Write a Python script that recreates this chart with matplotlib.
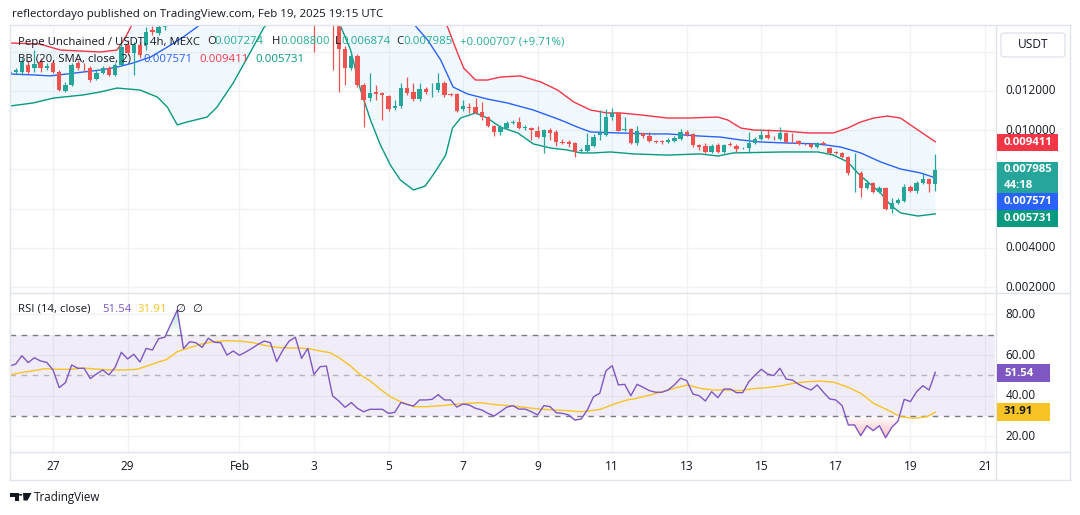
import matplotlib
matplotlib.use("Agg")
import matplotlib.pyplot as plt
import matplotlib.colors as mcolors
from matplotlib.patches import Rectangle, PathPatch, Polygon, Circle, FancyBboxPatch
from matplotlib.lines import Line2D
import numpy as np

# ---------------------------------------------------------------- data
# PEPEUNCH/USDT 4h candles, MEXC.  Bar 0 opens Jan 25 20:00 UTC, last bar Feb 19 16:00 UTC.
first_bar_day = -28 / 24          # days relative to Jan 27 00:00 UTC
bar_days = 4 / 24

opens = [0.01292, 0.01297, 0.01297, 0.01333, 0.01317, 0.01348, 0.01317, 0.01343, 0.01297, 0.01200,
         0.01231, 0.01343, 0.01317, 0.01317, 0.01261, 0.01292, 0.01317, 0.01282, 0.01333, 0.01435,
         0.01394, 0.01435, 0.01435, 0.01511, 0.01496, 0.01527, 0.0160, 0.0168, 0.0183, 0.0200,
         0.0182, 0.0189, 0.0187, 0.0183, 0.0192, 0.0189, 0.0188, 0.0178, 0.0181, 0.0178,
         0.0180, 0.0184, 0.0188, 0.0192, 0.0190, 0.0176, 0.0182, 0.0189, 0.0193, 0.0186,
         0.0176, 0.0166, 0.0170, 0.0162, 0.01414, 0.01317, 0.01379, 0.01231, 0.01164, 0.01195,
         0.01190, 0.01174, 0.01113, 0.01123, 0.01215, 0.01195, 0.01159, 0.01210, 0.01198, 0.01205,
         0.01241, 0.01185, 0.01185, 0.01108, 0.01118, 0.01118, 0.01093, 0.01067, 0.01021, 0.00991,
         0.01011, 0.01037, 0.01042, 0.01011, 0.01011, 0.00996, 0.00965, 0.01001, 0.00991, 0.00940,
         0.00940, 0.00935, 0.00894, 0.00894, 0.00919, 0.00976, 0.00976, 0.01067, 0.01088, 0.01001,
         0.01006, 0.00935, 0.00986, 0.00970, 0.00945, 0.00942, 0.00940, 0.00945, 0.00955, 0.00991,
         0.00981, 0.00924, 0.00919, 0.00889, 0.00924, 0.00889, 0.00930, 0.00919, 0.00907, 0.00909,
         0.00935, 0.00955, 0.00976, 0.00962, 0.00955, 0.00986, 0.00942, 0.00945, 0.00932, 0.00930,
         0.00914, 0.00935, 0.00909, 0.00889, 0.00884, 0.00863, 0.00780, 0.00782, 0.00705, 0.00731,
         0.00685, 0.00705, 0.00598, 0.00629, 0.00639, 0.00710, 0.00690, 0.00731, 0.00751, 0.007274]

highs = [0.01307, 0.01317, 0.01368, 0.01358, 0.01409, 0.01368, 0.01343, 0.01358, 0.01307, 0.01246,
         0.01343, 0.01358, 0.01343, 0.01327, 0.01307, 0.01327, 0.01327, 0.01343, 0.01450, 0.01460,
         0.01450, 0.01450, 0.01527, 0.01532, 0.01562, 0.0162, 0.0170, 0.0186, 0.0205, 0.0202,
         0.0192, 0.0191, 0.0189, 0.0195, 0.0194, 0.0191, 0.0189, 0.0183, 0.0182, 0.0183,
         0.0186, 0.0190, 0.0195, 0.0193, 0.0191, 0.0184, 0.0191, 0.0196, 0.0194, 0.0189,
         0.0179, 0.0174, 0.0173, 0.0164, 0.0143, 0.0140, 0.01390, 0.01240, 0.01292, 0.01231,
         0.01195, 0.01180, 0.01154, 0.01241, 0.01271, 0.01241, 0.01241, 0.01220, 0.01241, 0.01292,
         0.01250, 0.01190, 0.01190, 0.01154, 0.01139, 0.01164, 0.01144, 0.01072, 0.01027, 0.01027,
         0.01045, 0.01052, 0.01067, 0.01027, 0.01016, 0.01021, 0.01006, 0.01011, 0.01001, 0.00955,
         0.00950, 0.00940, 0.00909, 0.00986, 0.00981, 0.01103, 0.01108, 0.01113, 0.01093, 0.01067,
         0.01011, 0.01021, 0.00991, 0.00991, 0.00950, 0.00950, 0.00960, 0.00970, 0.01006, 0.01001,
         0.00986, 0.00930, 0.00935, 0.00930, 0.00935, 0.00930, 0.00940, 0.00930, 0.00914, 0.00991,
         0.00965, 0.01006, 0.01006, 0.00970, 0.01016, 0.00991, 0.00986, 0.00950, 0.00935, 0.00935,
         0.00940, 0.00945, 0.00914, 0.00894, 0.00889, 0.00868, 0.00884, 0.00790, 0.00746, 0.00736,
         0.00715, 0.00710, 0.00654, 0.00654, 0.00726, 0.00720, 0.00741, 0.00782, 0.00756, 0.008800]

lows = [0.01282, 0.01287, 0.01282, 0.01287, 0.01297, 0.01297, 0.01307, 0.01292, 0.01200, 0.01195,
        0.01226, 0.01307, 0.01297, 0.01246, 0.01256, 0.01287, 0.01277, 0.01277, 0.01327, 0.01384,
        0.01282, 0.01368, 0.01409, 0.01486, 0.01486, 0.0151, 0.0158, 0.0166, 0.0180, 0.0178,
        0.0179, 0.0183, 0.0180, 0.0182, 0.0187, 0.0186, 0.0176, 0.0176, 0.0176, 0.0177,
        0.0179, 0.0183, 0.0187, 0.0188, 0.0174, 0.0175, 0.0181, 0.0188, 0.0184, 0.01399,
        0.0162, 0.0164, 0.01307, 0.01195, 0.01230, 0.01307, 0.01220, 0.01016, 0.01149, 0.01154,
        0.01052, 0.01098, 0.01103, 0.01113, 0.01180, 0.01149, 0.01149, 0.01185, 0.01169, 0.01195,
        0.01170, 0.01174, 0.01093, 0.01098, 0.01088, 0.01083, 0.01052, 0.01016, 0.00970, 0.00976,
        0.01006, 0.01030, 0.01006, 0.01000, 0.00950, 0.00960, 0.00884, 0.00950, 0.00919, 0.00930,
        0.00914, 0.00863, 0.00884, 0.00889, 0.00914, 0.00950, 0.00970, 0.01052, 0.00996, 0.00996,
        0.00930, 0.00924, 0.00960, 0.00940, 0.00935, 0.00930, 0.00935, 0.00940, 0.00950, 0.00970,
        0.00914, 0.00899, 0.00884, 0.00884, 0.00884, 0.00884, 0.00919, 0.00889, 0.00904, 0.00884,
        0.00930, 0.00950, 0.00955, 0.00950, 0.00950, 0.00935, 0.00935, 0.00924, 0.00924, 0.00909,
        0.00909, 0.00924, 0.00879, 0.00879, 0.00858, 0.00771, 0.00685, 0.00659, 0.00700, 0.00680,
        0.00680, 0.00593, 0.00578, 0.00624, 0.00634, 0.00685, 0.00680, 0.00726, 0.00685, 0.006874]

closes = [0.01297, 0.01307, 0.01348, 0.01297, 0.01338, 0.01317, 0.01327, 0.01297, 0.01205, 0.01231,
          0.01333, 0.01317, 0.01315, 0.01256, 0.01292, 0.01317, 0.01282, 0.01333, 0.01424, 0.01394,
          0.01435, 0.01384, 0.01501, 0.01501, 0.01527, 0.0160, 0.0168, 0.0183, 0.0200, 0.0182,
          0.0189, 0.0187, 0.0183, 0.0192, 0.0189, 0.0188, 0.0178, 0.0181, 0.0178, 0.0180,
          0.0184, 0.0188, 0.0192, 0.0190, 0.0176, 0.0182, 0.0189, 0.0193, 0.0186, 0.0176,
          0.0166, 0.0170, 0.0162, 0.01414, 0.01317, 0.01379, 0.01231, 0.01154, 0.01190, 0.01185,
          0.01180, 0.01108, 0.01123, 0.01215, 0.01190, 0.01159, 0.01210, 0.01195, 0.01202, 0.01241,
          0.01180, 0.01180, 0.01098, 0.01123, 0.01113, 0.01088, 0.01067, 0.01021, 0.00991, 0.01016,
          0.01037, 0.01042, 0.01011, 0.01013, 0.01001, 0.00965, 0.01001, 0.00986, 0.00940, 0.00935,
          0.00930, 0.00889, 0.00899, 0.00924, 0.00965, 0.00986, 0.01067, 0.01088, 0.00996, 0.01006,
          0.00935, 0.00996, 0.00970, 0.00945, 0.00940, 0.00940, 0.00950, 0.00960, 0.00991, 0.00976,
          0.00924, 0.00914, 0.00889, 0.00919, 0.00889, 0.00924, 0.00924, 0.00904, 0.00909, 0.00935,
          0.00955, 0.00976, 0.00960, 0.00958, 0.00986, 0.00940, 0.00938, 0.00930, 0.00928, 0.00914,
          0.00935, 0.00930, 0.00884, 0.00884, 0.00863, 0.00782, 0.00784, 0.00705, 0.00731, 0.00685,
          0.00705, 0.00598, 0.00629, 0.00644, 0.00710, 0.00690, 0.00731, 0.00751, 0.00726, 0.007985]

# Bollinger Bands (20, SMA, close, 2): (bar position, value)
bb_upper_pos = [0, 4.8, 8.2, 14.6, 17.3, 18.6, 19.7, 22, 26, 30, 36, 42, 48, 54, 60, 66, 70.5, 72.1,
                73.1, 75.0, 76.9, 79.0, 82.2, 85.5, 88.2, 90.8, 93.5, 96.2, 98.3, 101.6, 105.9, 109.1,
                114.0, 115.6, 117.7, 119.8, 124.6, 128.5, 132.6, 134.9, 137.0, 139.1, 141.3, 143.4,
                146.2, 149]
bb_upper = [0.01445, 0.01440, 0.01409, 0.01399, 0.01409, 0.01470, 0.01537, 0.0160, 0.0175, 0.0190,
            0.0203, 0.0208, 0.0206, 0.0198, 0.0185, 0.0168, 0.01527, 0.01394, 0.01317, 0.01256,
            0.01256, 0.01271, 0.01277, 0.01246, 0.01205, 0.01144, 0.01103, 0.01088, 0.01088,
            0.01078, 0.01062, 0.01062, 0.01067, 0.01052, 0.01011, 0.01001, 0.00996, 0.00986,
            0.00986, 0.01011, 0.01042, 0.01062, 0.01072, 0.01062, 0.01001, 0.009411]

bb_basis_pos = [0, 3.8, 6.5, 9.3, 11.9, 14.6, 17.3, 19.9, 22.7, 25.4, 28.0, 30.2, 34, 40, 46, 52, 58,
                62, 64.5, 67.3, 69.4, 71.4, 73.7, 76.9, 80.1, 84.3, 88.7, 91.4, 93.5, 97.9, 103.2,
                105.9, 111.2, 114.4, 117.7, 120.9, 124.6, 130.1, 133.8, 137.0, 140.2, 143.4, 146.6, 149]
bb_basis = [0.01287, 0.01282, 0.01277, 0.01287, 0.01297, 0.01307, 0.01322, 0.01343, 0.01373, 0.01424,
            0.01476, 0.01527, 0.0163, 0.0176, 0.0183, 0.0185, 0.0178, 0.0166, 0.01562, 0.01460,
            0.01358, 0.01220, 0.01185, 0.01159, 0.01139, 0.01103, 0.01052, 0.01016, 0.00991,
            0.00986, 0.00981, 0.00981, 0.00970, 0.00965, 0.00950, 0.00940, 0.00935, 0.00930,
            0.00914, 0.00884, 0.00838, 0.00802, 0.00782, 0.007571]

bb_lower_pos = [0, 3.8, 7.1, 11.9, 14.6, 17.3, 21.0, 23.8, 25.4, 27.0, 28.6, 31.8, 33.4, 36.0, 38.7,
                40.9, 44, 48, 51, 53.2, 54.9, 56.5, 58.1, 59.7, 61.3, 62.9, 65.0, 66.9, 68.5, 70.2,
                71.3, 72.6, 75.0, 76.9, 79.0, 81.8, 84.3, 87.1, 89.8, 91.9, 94.0, 96.7, 100.4, 105.9,
                111.2, 114.0, 116.5, 124.6, 130.1, 132.6, 134.9, 136.5, 138.1, 140.2, 141.8, 143.4,
                146.2, 149]
bb_lower = [0.01123, 0.01139, 0.01164, 0.01180, 0.01195, 0.01215, 0.01205, 0.01169, 0.01118, 0.01027,
            0.01042, 0.01067, 0.01118, 0.01241, 0.01394, 0.01521, 0.0165, 0.0170, 0.0162, 0.01537,
            0.01409, 0.01205, 0.01052, 0.00924, 0.00822, 0.00746, 0.00695, 0.00715, 0.00787,
            0.00873, 0.01011, 0.01062, 0.01088, 0.01062, 0.01016, 0.00986, 0.00930, 0.00909,
            0.00899, 0.00884, 0.00884, 0.00889, 0.00879, 0.00873, 0.00879, 0.00868, 0.00884,
            0.00889, 0.00889, 0.00873, 0.00838, 0.00782, 0.00736, 0.00680, 0.00618, 0.00578,
            0.00562, 0.005731]

# RSI (14, close), one value per bar
rsi_values = [54.6, 55.6, 59.7, 56.3, 58.7, 57.1, 56.4, 52.7, 44.0, 46.4,
              55.1, 53.5, 53.5, 48.4, 50.7, 52.7, 50.2, 54.0, 61.4, 58.1,
              60.4, 56.6, 63.3, 62.5, 68.1, 68.8, 75.5, 82.2, 63.2, 66.6,
              66.1, 63.8, 68.3, 66.3, 66.1, 60.0, 62.0, 59.9, 61.5, 63.3,
              65.3, 66.9, 66.1, 56.8, 62.5, 66.9, 68.8, 58.4, 63.3, 50.5,
              54.3, 54.6, 39.9, 37.4, 34.3, 36.6, 33.8, 32.1, 33.3, 33.3,
              33.3, 31.3, 31.8, 36.7, 35.7, 34.9, 37.9, 37.9, 38.2, 40.5,
              37.9, 37.9, 34.4, 35.9, 35.4, 33.8, 33.0, 31.3, 30.0, 32.1,
              34.3, 35.1, 33.4, 33.4, 32.1, 30.5, 35.1, 34.6, 31.6, 31.3,
              30.5, 28.0, 28.5, 33.0, 39.5, 41.2, 52.3, 54.8, 45.3, 45.6,
              40.0, 45.6, 44.1, 42.5, 41.7, 41.7, 42.8, 45.3, 48.6, 47.4,
              40.8, 40.0, 37.4, 42.0, 39.0, 43.3, 43.3, 41.5, 41.5, 46.9,
              50.2, 53.0, 50.7, 49.9, 53.5, 48.2, 47.7, 45.6, 44.1, 42.8,
              45.3, 41.7, 38.4, 37.9, 35.1, 25.6, 25.6, 20.3, 25.2, 22.8,
              25.2, 19.3, 24.4, 27.5, 38.2, 37.1, 42.0, 44.9, 42.8, 51.54]

# RSI-based moving average (SMA 14): (bar position, value)
rsi_ma_pos = [0.0, 1.7, 3.9, 5.7, 7.9, 9.8, 11.9, 14.1, 16.2, 18.4, 20.5, 22.1, 23.7, 25.3, 27.0,
              28.6, 30.7, 32.8, 35.0, 37.1, 39.3, 40.9, 43.1, 45.2, 46.8, 48.4, 50.0, 51.6, 53.2,
              54.9, 56.5, 58.1, 59.7, 61.3, 62.9, 65.0, 67.2, 69.4, 71.5, 73.6, 75.8, 77.9, 79.0,
              81.2, 83.3, 85.4, 87.6, 89.8, 91.9, 93.5, 95.1, 97.3, 99.4, 100.5, 102.6, 104.8,
              106.9, 109.1, 111.2, 113.4, 115.5, 117.7, 119.8, 122.0, 124.1, 126.2, 128.4, 130.5,
              132.7, 134.8, 137.0, 139.1, 141.3, 143.4, 145.6, 147.7, 149.0]
rsi_ma_values = [50.2, 51.3, 52.3, 53.3, 53.0, 53.0, 53.6, 53.1, 52.7, 52.7, 53.0, 54.6, 56.3, 57.9,
                 61.7, 63.3, 65.3, 66.6, 67.1, 66.9, 66.1, 64.9, 63.8, 63.5, 63.5, 63.0, 62.0, 61.2,
                 58.4, 54.6, 50.2, 47.2, 43.1, 39.5, 37.1, 34.6, 34.6, 35.1, 35.7, 36.2, 36.6, 35.7,
                 35.4, 34.9, 34.1, 33.4, 33.0, 32.6, 32.1, 32.6, 33.3, 35.9, 37.9, 38.4, 40.0, 41.7,
                 43.6, 45.3, 43.6, 42.8, 42.8, 42.5, 43.5, 44.0, 44.8, 46.1, 46.9, 47.2, 46.6, 44.4,
                 41.2, 36.2, 33.0, 29.7, 28.9, 29.7, 31.91]

date_tick_days = [0, 2, 5, 7, 9, 11, 13, 15, 17, 19, 21, 23, 25]
date_tick_labels = ['27', '29', 'Feb', '3', '5', '7', '9', '11', '13', '15', '17', '19', '21']
price_ticks = [0.002, 0.004, 0.006, 0.008, 0.010, 0.012, 0.014]
price_labelled = [0.002, 0.004, 0.010, 0.012]     # the others sit under the price tags
rsi_ticks = [20, 40, 60, 80]

last_close, bb_basis_last, bb_upper_last, bb_lower_last = 0.007985, 0.007571, 0.009411, 0.005731
rsi_last, rsi_ma_last = 51.54, 31.91

# ---------------------------------------------------------------- style
W, H = 1080, 515
UP, DOWN = '#26a69a', '#ef5350'
TXT = '#131722'
GRID = '#f0f2f5'
FRAME = '#e0e3eb'
plt.rcParams['font.family'] = ['Open Sans', 'DejaVu Sans']

fig = plt.figure(figsize=(W / 100, H / 100), dpi=100)
fig.patch.set_facecolor('white')
renderer = fig.canvas.get_renderer()


def fx(px):
    return px / W


def fy(py):
    return 1 - py / H


def ftext(px, py, s, color=TXT, size=9.0, width=None, ha='left', va='center',
          weight='normal', zorder=6):
    t = fig.text(fx(px), fy(py), s, color=color, fontsize=size, ha=ha, va=va,
                 fontweight=weight, zorder=zorder)
    if width is not None:
        w = t.get_window_extent(renderer).width
        if w > 0:
            t.set_fontsize(size * width / w)
    return t


x_left_day = (10 - 53) / 37.28
x_right_day = (995 - 53) / 37.28

ax = fig.add_axes([fx(10), fy(293), 985 / W, 268 / H])
axr = fig.add_axes([fx(10), fy(452), 985 / W, 159 / H])
for a in (ax, axr):
    a.set_facecolor('white')
    for s in a.spines.values():
        s.set_visible(False)
    a.set_xlim(x_left_day, x_right_day)
    a.set_xticks(date_tick_days)
    a.grid(True, color=GRID, lw=1.0, zorder=0)
    a.set_axisbelow(True)

bar_x = first_bar_day + np.arange(len(closes)) * bar_days

# ---------------- price pane
ax.set_ylim(0.001694, 0.015367)
ax.set_yticks(price_ticks)
ax.set_yticklabels(['%.6f' % v if v in price_labelled else '' for v in price_ticks])
ax.yaxis.tick_right()
ax.tick_params(axis='y', length=0, pad=7.4, labelsize=8.5, labelcolor=TXT)
ax.tick_params(axis='x', length=0, labelbottom=False)
for lab in ax.get_yticklabels():
    lab.set_verticalalignment('center')

up_x = first_bar_day + np.array(bb_upper_pos) * bar_days
lo_x = first_bar_day + np.array(bb_lower_pos) * bar_days
ba_x = first_bar_day + np.array(bb_basis_pos) * bar_days
poly = np.vstack([np.column_stack([up_x, bb_upper]),
                  np.column_stack([lo_x, bb_lower])[::-1]])
ax.add_patch(Polygon(poly, closed=True, facecolor='#2196f3', alpha=0.055, lw=0, zorder=1))
ax.plot(up_x, bb_upper, color='#f23645', lw=1.0, zorder=2)
ax.plot(ba_x, bb_basis, color='#2962ff', lw=1.0, zorder=2)
ax.plot(lo_x, bb_lower, color='#089981', lw=1.0, zorder=2)

body_w = 0.7 * bar_days
for xi, o, h, l, c in zip(bar_x, opens, highs, lows, closes):
    col = UP if c >= o else DOWN
    ax.vlines(xi, l, h, color=col, lw=0.9, zorder=3)
    ax.bar(xi, max(abs(c - o), 0.00003), bottom=min(o, c), width=body_w, color=col,
           lw=0, zorder=4)

# ---------------- RSI pane
axr.set_ylim(12.27, 90.59)
axr.set_yticks(rsi_ticks)
axr.set_yticklabels(['%.2f' % v for v in rsi_ticks])
axr.yaxis.tick_right()
axr.tick_params(axis='y', length=0, pad=7.4, labelsize=8.5, labelcolor=TXT)
for lab in axr.get_yticklabels():
    lab.set_verticalalignment('center')
axr.set_xticklabels(date_tick_labels)
axr.tick_params(axis='x', length=0, pad=6.0, labelsize=8.6, labelcolor=TXT)

axr.axhspan(30, 70, color='#7e57c2', alpha=0.1, lw=0, zorder=1)
axr.axhline(70, color='#787b86', lw=1.0, ls=(0, (4, 4)), zorder=2)
axr.axhline(30, color='#787b86', lw=1.0, ls=(0, (4, 4)), zorder=2)
axr.axhline(50, color='#787b86', lw=1.0, ls=(0, (4, 4)), alpha=0.5, zorder=2)

rsi_arr = np.array(rsi_values)


def gradient_fill(where, base, far, color, alpha_far):
    coll = axr.fill_between(bar_x, rsi_arr, base, where=where, interpolate=True,
                            facecolor='none', edgecolor='none')
    rgb = mcolors.to_rgb(color)
    n = 128
    grad = np.zeros((n, 1, 4))
    grad[:, 0, :3] = rgb
    lo_v, hi_v = min(base, far), max(base, far)
    a = np.linspace(0, 1, n)
    grad[:, 0, 3] = alpha_far * (a if far > base else 1 - a)
    for path in coll.get_paths():
        if len(path.vertices) < 3:
            continue
        xs = path.vertices[:, 0]
        im = axr.imshow(grad, extent=[xs.min(), xs.max(), lo_v, hi_v], origin='lower',
                        aspect='auto', zorder=2, interpolation='bilinear')
        patch = PathPatch(path, transform=axr.transData, facecolor='none', edgecolor='none')
        im.set_clip_path(patch)
    coll.remove()


gradient_fill(rsi_arr > 70, 70, 84, '#089981', 0.35)
gradient_fill(rsi_arr < 30, 30, 17, '#f23645', 0.38)
axr.set_xlim(x_left_day, x_right_day)
axr.set_ylim(12.27, 90.59)

ma_x = first_bar_day + np.array(rsi_ma_pos) * bar_days
axr.plot(ma_x, rsi_ma_values, color='#f7c325', lw=1.0, zorder=3)
axr.plot(bar_x, rsi_values, color='#7e57c2', lw=1.0, zorder=4)


# ---------------- frame lines
def fline(x0, y0, x1, y1, color=FRAME, lw=1.0):
    fig.add_artist(Line2D([fx(x0), fx(x1)], [fy(y0), fy(y1)], color=color, lw=lw, zorder=3))


fline(10, 25, 1070, 25)
fline(10, 25, 10, 480)
fline(1070, 25, 1070, 480)
fline(10, 480, 1070, 480)
fline(995.5, 25, 995.5, 480)
fline(10, 293, 1070, 293)
fline(10, 452, 1070, 452)

# ---------------- texts
ftext(12, 14, 'reflectordayo published on TradingView.com, Feb 19, 2025 19:15 UTC',
      size=9.0, width=371)
t0 = ftext(18, 42, 'Pepe Unchained / USDT, 4h, MEXC', size=9.0, width=182)
ls = t0.get_fontsize()
VAL = '#22ab94'
for px, s, c in [(207, 'O', TXT), (214, '0.007274', VAL), (272, 'H', TXT), (280, '0.008800', VAL),
                 (335, 'L', TXT), (341, '0.006874', VAL), (396, 'C', TXT), (403, '0.007985', VAL),
                 (460, '+0.000707 (+9.71%)', VAL)]:
    ftext(px, 42, s, color=c, size=ls)
ftext(18, 59, 'BB (20, SMA, close, 2)', size=ls)
ftext(143, 59, '%.6f' % bb_basis_last, color='#2962ff', size=ls)
ftext(199, 59, '%.6f' % bb_upper_last, color='#f23645', size=ls)
ftext(255, 59, '%.6f' % bb_lower_last, color='#089981', size=ls)

ftext(18, 309, 'RSI (14, close)', size=ls)
ftext(102, 309, '%.2f' % rsi_last, color='#7e57c2', size=ls)
ftext(138, 309, '%.2f' % rsi_ma_last, color='#f7c325', size=ls)
ftext(175, 309, '\u2205', size=ls)
ftext(192, 309, '\u2205', size=ls)

# USDT box
fig.add_artist(FancyBboxPatch((fx(1001), fy(57)), 64 / W, 24 / H,
                              boxstyle='round,pad=0,rounding_size=0.004',
                              transform=fig.transFigure, facecolor='white',
                              edgecolor=FRAME, lw=1.0, zorder=5))
ftext(1033, 45, 'USDT', size=8.6, ha='center')


def tag(y0, y1, lines, face, tcolor='white', x1=1058):
    fig.add_artist(Rectangle((fx(997), fy(y1)), (x1 - 997) / W, (y1 - y0) / H,
                             transform=fig.transFigure, facecolor=face, lw=0, zorder=5))
    n = len(lines)
    step = (y1 - y0) / n
    for k, s in enumerate(lines):
        ftext(1004, y0 + step * (k + 0.5), s, color=tcolor, size=8.2, weight='bold', zorder=7)


tag(134, 151, ['%.6f' % bb_upper_last], '#f23645')
tag(162, 193, ['%.6f' % last_close, '44:18'], '#26a69a')
tag(193, 210, ['%.6f' % bb_basis_last], '#2962ff')
tag(210, 227, ['%.6f' % bb_lower_last], '#089981')
tag(364, 382, ['%.2f' % rsi_last], '#7e57c2', x1=1050)
tag(403, 421, ['%.2f' % rsi_ma_last], '#f7c325', tcolor=TXT, x1=1050)

# TradingView logo + wordmark
fig.add_artist(Rectangle((fx(10), fy(496.5)), 8.5 / W, 3.5 / H, transform=fig.transFigure,
                         facecolor=TXT, lw=0, zorder=5))
fig.add_artist(Rectangle((fx(14.5), fy(500.5)), 4 / W, 7.5 / H, transform=fig.transFigure,
                         facecolor=TXT, lw=0, zorder=5))
fig.add_artist(Polygon([(fx(23), fy(493)), (fx(31.5), fy(493)), (fx(27.5), fy(500.5)),
                        (fx(23.5), fy(500.5))], closed=True, transform=fig.transFigure,
                       facecolor=TXT, lw=0, zorder=5))
fig.add_artist(Circle((fx(20.6), fy(494.8)), 1.8 / W, transform=fig.transFigure,
                      facecolor=TXT, lw=0, zorder=5))
ftext(34, 497, 'TradingView', size=9.5, width=67)

fig.savefig('out.png', dpi=100, facecolor='white')
